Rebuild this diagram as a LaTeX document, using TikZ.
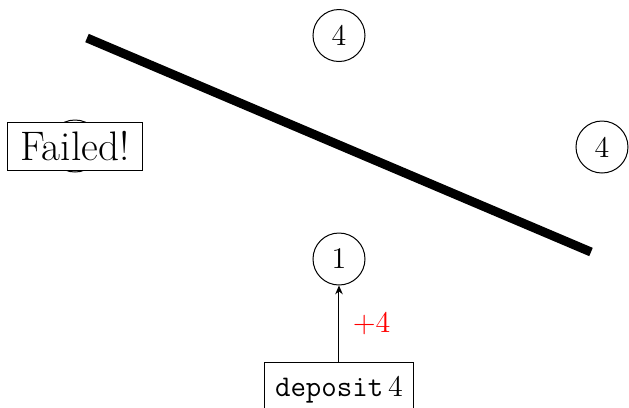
\documentclass[tikz,border=0pt]{standalone}
\usetikzlibrary{arrows.meta}
\begin{document}
\begin{tikzpicture}[x=0.4pt,y=-0.4pt,
  state/.style={draw,circle,minimum size=20.8pt,inner sep=0pt,font=\fontsize{12}{14}\selectfont},
  fail/.style={draw,fill=white,font=\fontsize{16.5}{19}\selectfont,minimum width=53.6pt,minimum height=19.2pt,inner sep=2pt},
  action/.style={draw,fill=white,font=\fontsize{12}{14}\selectfont,minimum width=59.6pt,minimum height=22pt},
  bar/.style={line width=3.6pt},
  lbl/.style={text=red,font=\fontsize{12}{14}\selectfont}]
\useasboundingbox (0,0) rectangle (629,408);
\node[state] (top) at (339,35.5) {4};
\node[state] (right) at (602,147) {4};
\node[state] (one) at (339,259) {1};
\node[state] (hidden) at (75,146) {};
\node[fail] (failed) at (75,146) {Failed!};
\coordinate (b1) at (87,38);
\coordinate (b2) at (591,252);
\draw[bar] (b1) -- (b2);
\node[action,anchor=north] (dep) at (339,362) {\texttt{deposit}\,$4$};
\draw[-{Stealth[length=3.5pt,width=3pt]}] (dep) -- node[lbl,right=2pt] {$+4$} (one);
\end{tikzpicture}
\end{document}
